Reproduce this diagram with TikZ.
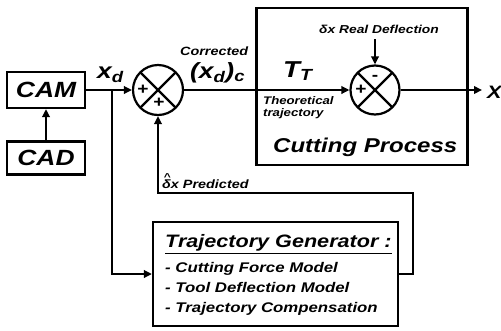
\documentclass[tikz,border=0pt]{standalone}
\usepackage{amsmath}
\usepackage{fontspec}
\setmainfont{Liberation Sans}[FakeStretch=1.2]
\usetikzlibrary{arrows.meta,positioning,calc}
\tikzset{
  txt/.style={inner sep=0pt, font=\fontsize{#1}{#1}\selectfont\bfseries\itshape},
  blk/.style={draw, line width=2.2pt, inner sep=0pt},
  sumj/.style={circle, draw, line width=2.2pt, inner sep=0pt, minimum size=#1,
    path picture={\draw[line width=2.2pt] (path picture bounding box.north west) -- (path picture bounding box.south east)
      (path picture bounding box.north east) -- (path picture bounding box.south west);}},
  sgn/.style={inner sep=0pt, font=\fontsize{16}{16}\selectfont\bfseries},
  wire/.style={line width=2.6pt},
  link/.style={wire, -{Triangle[length=8pt, width=7.5pt]}},
}
\newcommand{\dhat}{\rlap{\raisebox{0.62em}{\kern0.12em\fontsize{10}{10}\selectfont\^{}}}δ}
\begin{document}
\begin{tikzpicture}[x=1pt, y=-1pt]
  \useasboundingbox (0,0) rectangle (501,330);
  % blocks
  \node[blk, minimum width=78pt, minimum height=36pt, txt=22] (cam) at (46,90) {CAM};
  \node[blk, minimum width=78pt, minimum height=33pt, txt=22] (cad) at (46,158) {CAD};
  \node[blk, minimum width=211pt, minimum height=157pt] (proc) at (362,86.5) {};
  \node[blk, minimum width=245pt, minimum height=104pt] (tg) at (275.5,274) {};
  \node[sumj=50pt] (s1) at (158,90) {};
  \node[sumj=49pt] (s2) at (375,90) {};
  % labels
  \node[txt=22, anchor=base west] (xd) at (97,78) {\(\text{x}_{\text{d}}\)};
  \node[txt=12, anchor=base west] (corr) at (180,55) {Corrected};
  \node[txt=22, anchor=base west] (xdc) at (190,78) {(\(\text{x}_{\text{d}}\))\(_{\text{c}}\)};
  \node[txt=23, anchor=base west] (tt) at (283,77) {\(\text{T}_{\text{T}}\)};
  \node[txt=11, anchor=north west, align=left] (theo) at (263,96) {Theoretical\\[1pt]trajectory};
  \node[txt=11.5, anchor=base west] (rdef) at (319,33) {δx Real Deflection};
  \node[txt=20, anchor=base west] (cutp) at (273,152) {Cutting Process};
  \node[txt=12, anchor=base west] (pred) at (162,188) {\dhat x Predicted};
  \node[txt=18, anchor=base west] (tgt) at (165,247) {\underline{Trajectory Generator :}};
  \node[txt=14, anchor=north west, align=left] (tgl) at (165,262) {- Cutting Force Model\\[6pt]- Tool Deflection Model\\[6pt]- Trajectory Compensation};
  \node[txt=18, anchor=base west] (xout) at (487,98) {X};
  \foreach \c/\dx/\dy/\s in {s1/-15/0/+, s1/1/13/+, s2/-14/0/+, s2/0/-12/-}
    \node[sgn] at ($(\c)+(\dx,\dy)$) {\s};
  % connectors
  \coordinate (br) at (112,90);
  \coordinate (fb) at (413,193);
  \draw[link] (cad) -- (cam);
  \draw[link] (cam) -- (s1);
  \draw[link] (br) |- (tg);
  \draw[link] (tg) -| (fb) -| (s1);
  \draw[link] (s1) -- (s2);
  \draw[link] ([yshift=-6pt]s2 |- rdef.south) -- (s2);
  \draw[link, shorten >=5pt] (s2) -- (s2 -| xout.west);
\end{tikzpicture}
\end{document}
